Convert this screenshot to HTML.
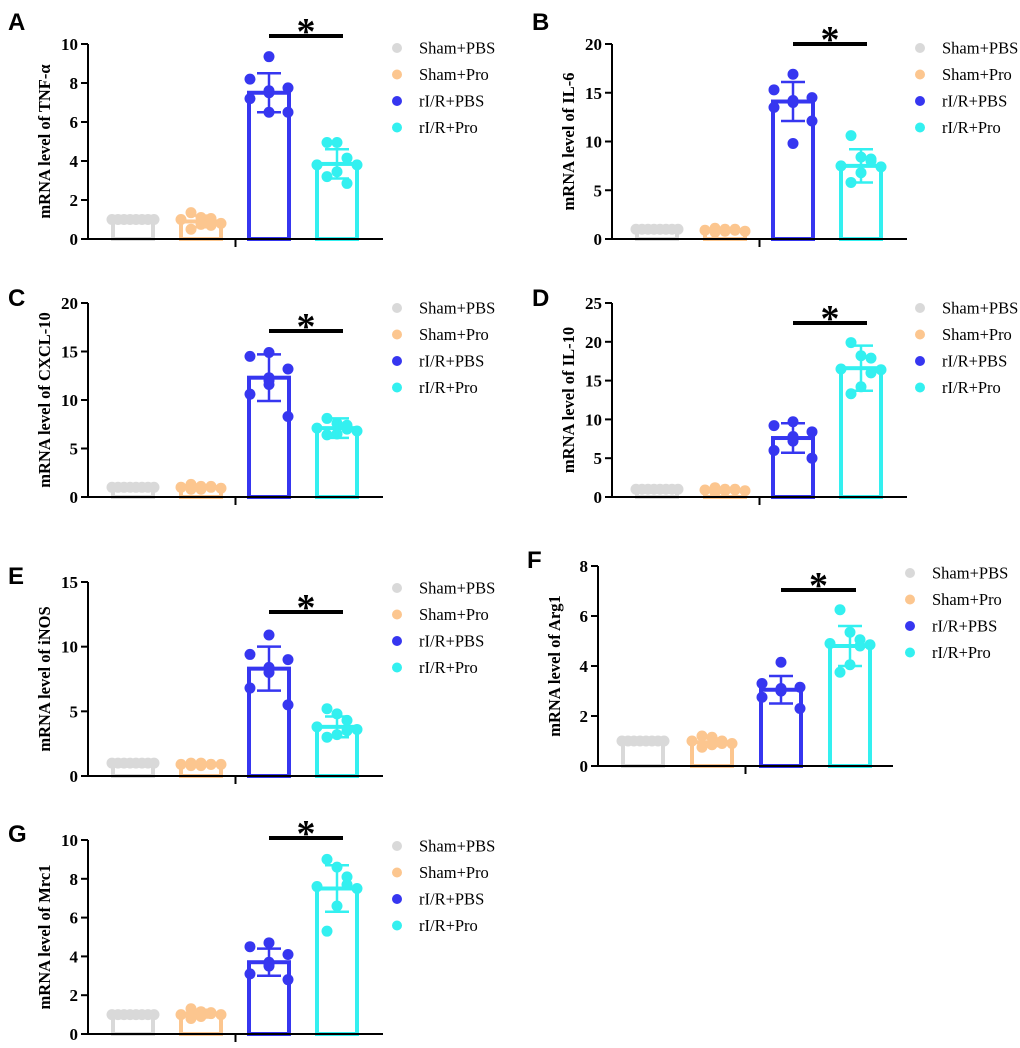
<!DOCTYPE html>
<html><head><meta charset="utf-8"><style>
body{margin:0;background:#fff}
svg{display:block}
text{font-family:"Liberation Serif",serif}
</style></head><body>
<svg id="fig" width="1020" height="1048" viewBox="0 0 1020 1048" xmlns="http://www.w3.org/2000/svg"></svg>
<script>
const groups = ["Sham+PBS","Sham+Pro","rI/R+PBS","rI/R+Pro"];
const colors = ["#d9d9d9","#fcc68f","#3636f0","#33f0f0"];
const panelLetters = ["A","B","C","D","E","F","G"];
const yLabels = ["mRNA level of TNF-α","mRNA level of IL-6","mRNA level of CXCL-10","mRNA level of IL-10","mRNA level of iNOS","mRNA level of Arg1","mRNA level of Mrc1"];
const yMax = [10,20,20,25,15,8,10];
const yStep = [2,5,5,5,5,2,2];
const means = [[1,0.9,7.5,3.85],[1,0.9,14.1,7.5],[1,1,12.3,7.1],[1,0.9,7.6,16.6],[1,0.9,8.3,3.8],[1,0.95,3.05,4.8],[1,1.05,3.7,7.5]];
const sds = [[0,0.3,1,0.75],[0,0.2,2,1.7],[0,0.2,2.4,1],[0,0.2,1.9,2.9],[0,0.1,1.7,0.8],[0,0.15,0.55,0.8],[0,0.2,0.7,1.2]];
const points = [
 [[1,1,1,1,1,1,1,1],[1.35,1.1,1.05,1.0,0.8,0.75,0.5,0.7],[9.35,8.2,7.75,7.6,7.5,7.2,6.5,6.5],[4.95,4.95,4.15,3.8,3.8,3.45,3.2,2.85]],
 [[1,1,1,1,1,1,1,1],[1.1,1.0,0.9,0.9,0.8,0.8,0.7,1.0],[16.9,15.3,14.5,14.2,14.0,13.5,12.1,9.8],[10.6,8.4,8.2,7.5,7.4,6.8,5.8,8.0]],
 [[1,1,1,1,1,1,1,1],[1.3,1.1,1.0,1.0,0.9,0.8,0.8,1.1],[14.9,14.5,13.2,12.3,12.0,10.6,8.3,11.6],[8.1,7.6,7.4,7.1,6.8,6.5,6.4,7.0]],
 [[1,1,1,1,1,1,1,1],[1.2,1.0,1.0,0.9,0.8,0.8,0.6,0.9],[9.7,9.2,8.4,7.6,7.2,6.0,5.0,7.8],[19.9,18.2,17.9,16.5,16.4,14.2,13.3,16.0]],
 [[1,1,1,1,1,1,1,1],[1.0,1.0,0.9,0.9,0.9,0.8,0.8,0.9],[10.9,9.4,9.0,8.4,8.0,6.8,5.5,8.3],[5.2,4.8,4.3,3.8,3.6,3.2,3.0,3.5]],
 [[1,1,1,1,1,1,1,1],[1.2,1.15,1.0,1.0,0.9,0.85,0.75,0.9],[4.15,3.3,3.15,3.0,3.0,2.75,2.3,3.1],[6.25,5.35,5.05,4.9,4.85,4.05,3.75,4.8]],
 [[1,1,1,1,1,1,1,1],[1.3,1.15,1.1,1.0,1.0,0.9,0.8,1.05],[4.7,4.5,4.1,3.7,3.5,3.1,2.8,3.6],[9.0,8.6,8.1,7.6,7.5,6.6,5.3,7.7]]
];
const layout = [
 {ax:88,top:44,bot:239,lx:8,ly:30,legX:397,legY:48,sigY:36,bw:68},
 {ax:612,top:44,bot:239,lx:532,ly:30,legX:920,legY:48,sigY:44,bw:68},
 {ax:88,top:303,bot:497,lx:8,ly:306,legX:397,legY:308,sigY:331,bw:68},
 {ax:612,top:303,bot:497,lx:532,ly:306,legX:920,legY:308,sigY:323,bw:68},
 {ax:88,top:582,bot:776,lx:8,ly:584,legX:397,legY:588,sigY:612,bw:68},
 {ax:598,top:566,bot:766,lx:527,ly:568,legX:910,legY:573,sigY:590,bw:69},
 {ax:88,top:840,bot:1034,lx:8,ly:842,legX:397,legY:846,sigY:838,bw:68}
];
const jit = [[0,-19,19,0,0,-19,19,0],[-10,0,10,-20,20,0,-10,10]];
const NS="http://www.w3.org/2000/svg";
const svg=document.getElementById('fig');
function mk(tag,attrs,parent,txt){const e=document.createElementNS(NS,tag);for(const k in attrs)e.setAttribute(k,attrs[k]);if(txt!==undefined)e.textContent=txt;(parent||svg).appendChild(e);return e;}
layout.forEach((L,p)=>{
 const g=mk('g',{});
 
 
 const y=v=>L.bot-(v/yMax[p])*(L.bot-L.top);
 const cx=i=>L.ax+45+i*L.bw;
 const axEnd=L.ax+295;
 const lt=mk('text',{x:L.lx,y:L.ly,'font-size':24,'font-weight':'bold',style:'font-family:"Liberation Sans",sans-serif'},g,panelLetters[p]);
 
 
 for(let i=0;i<4;i++){
  const m=means[p][i],s=sds[p][i],c=colors[i];
  const b=mk('rect',{x:cx(i)-20,y:y(m),width:40,height:L.bot-y(m),fill:'#fff',stroke:c,'stroke-width':4},g);
  
  
  points[p][i].forEach((v,k)=>{
   const off = i===0 ? (k-3.5)*6 : jit[i%2][k];
   const pt=mk('circle',{cx:cx(i)+off,cy:y(v),r:5.5,fill:c},g);
   
   
  });
  if(s>0){
   const eg=mk('g',{stroke:c,'stroke-width':2.5},g);
   
   
   mk('line',{x1:cx(i),x2:cx(i),y1:y(m+s),y2:y(m-s)},eg);
   mk('line',{x1:cx(i)-12,x2:cx(i)+12,y1:y(m+s),y2:y(m+s)},eg);
   mk('line',{x1:cx(i)-12,x2:cx(i)+12,y1:y(m-s),y2:y(m-s)},eg);
  }
 }
 const ya=mk('line',{x1:L.ax,x2:L.ax,y1:L.top,y2:L.bot+1,stroke:'#000','stroke-width':2},g);
 
 const xa=mk('line',{x1:L.ax-1,x2:axEnd,y1:L.bot,y2:L.bot,stroke:'#000','stroke-width':2},g);
 
 mk('line',{x1:(L.ax+axEnd)/2,x2:(L.ax+axEnd)/2,y1:L.bot,y2:L.bot+8,stroke:'#000','stroke-width':2},g);
 for(let v=0;v<=yMax[p];v+=yStep[p]){
  mk('line',{x1:L.ax-7,x2:L.ax,y1:y(v),y2:y(v),stroke:'#000','stroke-width':2},g);
  const t=mk('text',{x:L.ax-10,y:y(v)+6,'font-size':17,'font-weight':'bold','text-anchor':'end'},g,String(v));
  
 }
 const yl=mk('text',{transform:`translate(${L.ax-38},${(L.top+L.bot)/2}) rotate(-90)`,'font-size':16.5,'font-weight':'bold','text-anchor':'middle'},g,yLabels[p]);
 
 const sx1=cx(2),sx2=cx(3)+6;
 const sb=mk('line',{x1:sx1,x2:sx2,y1:L.sigY,y2:L.sigY,stroke:'#000','stroke-width':4},g);
 
 const st=mk('text',{x:(sx1+sx2)/2,y:L.sigY+8,'font-size':38,'font-weight':'bold','text-anchor':'middle'},g,'*');
 
 for(let i=0;i<4;i++){
  const lg=mk('g',{},g);
  
  const ly=L.legY+i*26.5;
  mk('circle',{cx:L.legX,cy:ly,r:5,fill:colors[i]},lg);
  mk('text',{x:L.legX+22,y:ly+5.5,'font-size':16.5},lg,groups[i]);
 }
});
</script>
</body></html>
